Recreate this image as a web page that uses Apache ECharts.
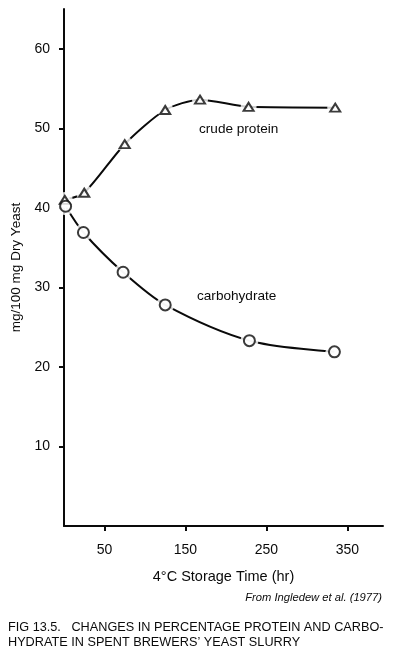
<!DOCTYPE html>
<html>
<head>
<meta charset="utf-8">
<script src="https://cdn.jsdelivr.net/npm/echarts@6/dist/echarts.min.js"></script>
<style>
html,body{margin:0;padding:0;background:#fff;}
#c{width:393px;height:668px;}
</style>
</head>
<body>
<div id="c"></div>
<script>
// Data
var proteinTime = [1, 25, 75, 125, 168, 228, 335];
var proteinValue = [41.0, 41.9, 48.0, 52.3, 53.6, 52.7, 52.6];
var carbTime = [2, 24, 73, 125, 229, 334];
var carbValue = [40.2, 36.9, 31.9, 27.8, 23.3, 21.9];
var xTickValues = [50, 150, 250, 350];
var yTickValues = [10, 20, 30, 40, 50, 60];

var FONT = '"Liberation Sans", Arial, Helvetica, sans-serif';
var INK = '#0a0a0a';

function pairs(xs, ys) {
  return xs.map(function (x, i) { return [x, ys[i]]; });
}
var proteinData = pairs(proteinTime, proteinValue);
var carbData = pairs(carbTime, carbValue);

var chart = echarts.init(document.getElementById('c'), null, {renderer: 'canvas'});
chart.setOption({
  backgroundColor: '#ffffff',
  animation: false,
  grid: {left: 64, top: 9, width: 319, height: 517, containLabel: false},
  xAxis: {
    type: 'value', min: 0, max: 394,
    name: '4°C Storage Time (hr)', nameLocation: 'middle', nameGap: 43,
    nameTextStyle: {fontFamily: FONT, fontSize: 14.5, color: INK},
    axisLine: {show: true, lineStyle: {color: INK, width: 2}},
    axisTick: {show: true, length: 5, inside: false, customValues: xTickValues, lineStyle: {color: INK, width: 2}},
    axisLabel: {customValues: xTickValues, fontFamily: FONT, fontSize: 14, color: INK, margin: 17},
    splitLine: {show: false}
  },
  yAxis: {
    type: 'value', min: 0, max: 65,
    name: 'mg/100 mg Dry Yeast', nameLocation: 'middle', nameGap: 41, nameRotate: 90,
    nameTextStyle: {fontFamily: FONT, fontSize: 13.5, color: INK},
    axisLine: {show: true, lineStyle: {color: INK, width: 2}},
    axisTick: {show: true, length: 5, customValues: yTickValues, lineStyle: {color: INK, width: 2}},
    axisLabel: {customValues: yTickValues, fontFamily: FONT, fontSize: 14, color: INK, margin: 14},
    splitLine: {show: false}
  },
  series: [
    {type: 'line', data: proteinData, smooth: 0.25, symbol: 'none', z: 2,
     lineStyle: {color: INK, width: 2}},
    {type: 'line', data: carbData, smooth: 0.3, symbol: 'none', z: 2,
     lineStyle: {color: INK, width: 2}},
    {type: 'scatter', data: proteinData, symbol: 'circle', symbolSize: 16, z: 3,
     itemStyle: {color: '#fff', borderWidth: 0}},
    {type: 'scatter', data: carbData, symbol: 'circle', symbolSize: 18, z: 3,
     itemStyle: {color: '#fff', borderWidth: 0}},
    {type: 'scatter', data: proteinData, symbol: 'triangle', symbolSize: [10, 8], z: 4,
     itemStyle: {color: '#fff', borderColor: INK, borderWidth: 2}},
    {type: 'scatter', data: carbData, symbol: 'circle', symbolSize: 11, z: 4,
     itemStyle: {color: '#fff', borderColor: INK, borderWidth: 2}}
  ],
  graphic: [
    {type: 'text', left: 199, top: 122, style: {text: 'crude protein', font: '13.6px ' + FONT, fill: INK}},
    {type: 'text', left: 197, top: 289, style: {text: 'carbohydrate', font: '13.6px ' + FONT, fill: INK}},
    {type: 'text', right: 11, top: 592, style: {text: 'From Ingledew et al. (1977)', font: 'italic 11.2px ' + FONT, fill: INK}},
    {type: 'text', left: 8, top: 620, style: {text: 'FIG 13.5.   CHANGES IN PERCENTAGE PROTEIN AND CARBO-\nHYDRATE IN SPENT BREWERS\u2019 YEAST SLURRY', font: '12.7px ' + FONT, fill: INK, lineHeight: 15}}
  ]
});
</script>
</body>
</html>
